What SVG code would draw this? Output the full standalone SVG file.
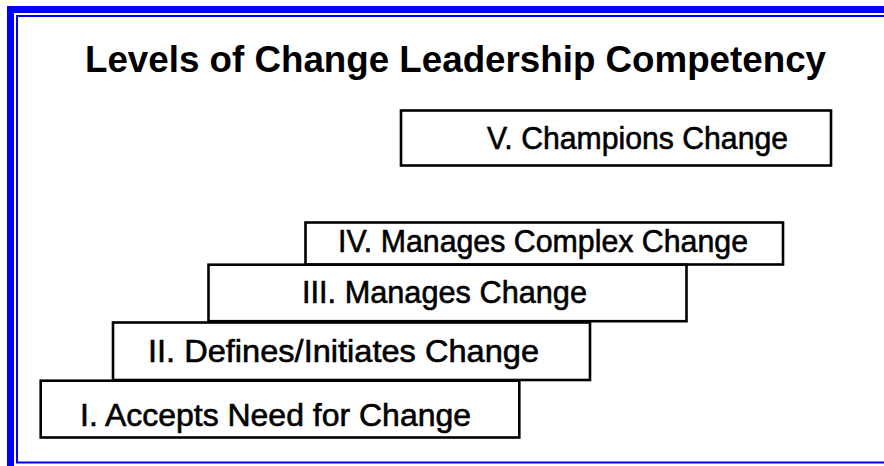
<svg xmlns="http://www.w3.org/2000/svg" width="884" height="466" viewBox="0 0 884 466">
<style>
.frame{fill:none;stroke:#0000FF}
.box{fill:#FFFFFF;stroke:#000000;stroke-width:2.6}
.lbl{font-family:"Liberation Sans",Arial,sans-serif;font-size:32px;fill:#000000;stroke:#000000;stroke-width:0.6}
.title{font-family:"Liberation Sans",Arial,sans-serif;font-size:37px;font-weight:bold;fill:#000000}
</style>
<rect width="884" height="466" fill="#FFFFFF"/>
<g id="frame">
<rect class="frame" x="10.5" y="9.5" width="900" height="480" stroke-width="7"/>
<rect class="frame" x="17" y="16" width="890" height="446.5" stroke-width="2"/>
</g>
<text id="title" class="title" x="85" y="72" textLength="741" lengthAdjust="spacingAndGlyphs">Levels of Change Leadership Competency</text>
<g id="connectors"></g>
<g id="level5">
<rect class="box" x="401" y="110.5" width="430" height="55"/>
<text class="lbl" x="487" y="149" textLength="301" lengthAdjust="spacingAndGlyphs">V. Champions Change</text>
</g>
<g id="level4">
<rect class="box" x="305.5" y="222.5" width="477.5" height="42"/>
<text class="lbl" x="338" y="252" textLength="410" lengthAdjust="spacingAndGlyphs">IV. Manages Complex Change</text>
</g>
<g id="level3">
<rect class="box" x="208.5" y="264.7" width="478" height="56.5"/>
<text class="lbl" x="302" y="303" textLength="285" lengthAdjust="spacingAndGlyphs">III. Manages Change</text>
</g>
<g id="level2">
<rect class="box" x="113" y="322.5" width="477" height="57.5"/>
<text class="lbl" x="148" y="362" textLength="391" lengthAdjust="spacingAndGlyphs">II. Defines/Initiates Change</text>
</g>
<g id="level1">
<rect class="box" x="40.7" y="380.7" width="478.6" height="56.8"/>
<text class="lbl" x="80" y="426" textLength="391" lengthAdjust="spacingAndGlyphs">I. Accepts Need for Change</text>
</g>
</svg>
